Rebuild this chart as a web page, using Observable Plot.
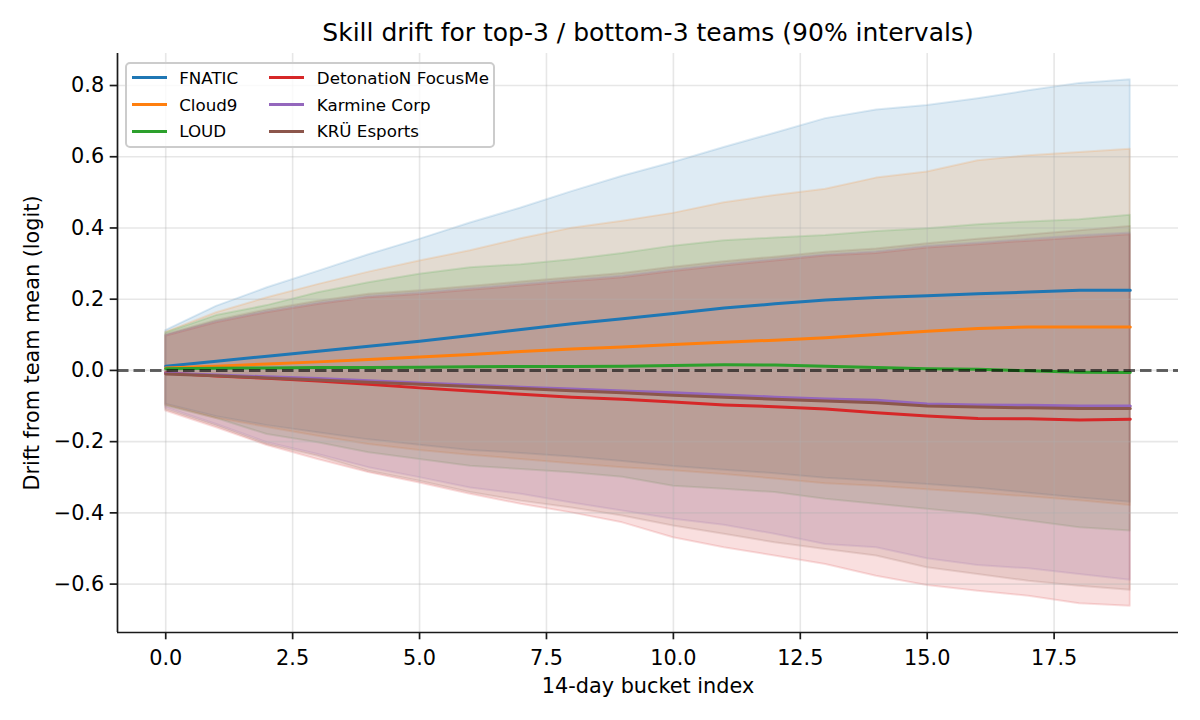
<!DOCTYPE html>
<html>
<head>
<meta charset="utf-8">
<script src="https://cdn.jsdelivr.net/npm/d3@7"></script>
<script src="https://cdn.jsdelivr.net/npm/@observablehq/plot@0.6"></script>
<style>
  html, body { margin: 0; padding: 0; background: #fff; }
  #wrap { position: relative; width: 1200px; height: 720px; font-family: "DejaVu Sans", sans-serif; }
  #legend { position: absolute; left: 125px; top: 62px; width: 366px; height: 82px;
            border: 2px solid #cccccc; border-radius: 5px; background: rgba(255,255,255,0.8); }
  .item { position: absolute; height: 22px; display: flex; align-items: center; font-size: 16.7px; color: #000; white-space: nowrap; }
  .sw { width: 35px; height: 3px; margin-right: 12.5px; }
</style>
</head>
<body>
<div id="wrap"><div id="chart"></div><div id="legend"></div></div>
<script>
// ---- data ----
const buckets = [0,1,2,3,4,5,6,7,8,9,10,11,12,13,14,15,16,17,18,19];
const teams = ["FNATIC", "Cloud9", "LOUD", "DetonatioN FocusMe", "Karmine Corp", "KRÜ Esports"];
const teamColors = ["#1f77b4", "#ff7f0e", "#2ca02c", "#d62728", "#9467bd", "#8c564b"];

const fnaticMean = [0.012,0.026,0.040,0.054,0.068,0.082,0.098,0.115,0.131,0.145,0.160,0.175,0.187,0.198,0.205,0.210,0.215,0.220,0.225,0.225];
const fnaticHi   = [0.112,0.180,0.232,0.278,0.325,0.368,0.414,0.456,0.502,0.545,0.584,0.626,0.666,0.707,0.731,0.744,0.763,0.785,0.806,0.816];
const fnaticLo   = [-0.095,-0.130,-0.155,-0.175,-0.195,-0.210,-0.225,-0.233,-0.243,-0.256,-0.270,-0.280,-0.290,-0.303,-0.311,-0.320,-0.331,-0.345,-0.358,-0.370];

const cloud9Mean = [0.007,0.012,0.018,0.024,0.031,0.038,0.045,0.053,0.060,0.066,0.073,0.079,0.085,0.092,0.101,0.110,0.118,0.122,0.122,0.122];
const cloud9Hi   = [0.107,0.162,0.204,0.241,0.276,0.307,0.336,0.370,0.399,0.419,0.441,0.471,0.491,0.509,0.540,0.557,0.589,0.603,0.612,0.621];
const cloud9Lo   = [-0.097,-0.135,-0.160,-0.185,-0.208,-0.225,-0.238,-0.250,-0.262,-0.273,-0.282,-0.292,-0.305,-0.318,-0.325,-0.335,-0.345,-0.355,-0.366,-0.379];

const loudMean = [0.005,0.006,0.007,0.008,0.008,0.009,0.010,0.011,0.011,0.012,0.014,0.016,0.015,0.012,0.008,0.005,0.003,-0.001,-0.005,-0.006];
const loudHi   = [0.105,0.154,0.182,0.218,0.246,0.270,0.288,0.297,0.311,0.328,0.349,0.364,0.372,0.379,0.390,0.398,0.409,0.417,0.423,0.436];
const loudLo   = [-0.100,-0.135,-0.180,-0.203,-0.231,-0.250,-0.269,-0.278,-0.287,-0.300,-0.325,-0.334,-0.343,-0.362,-0.376,-0.390,-0.404,-0.423,-0.442,-0.451];

const dfmMean = [-0.007,-0.016,-0.022,-0.030,-0.039,-0.049,-0.058,-0.067,-0.075,-0.081,-0.089,-0.097,-0.102,-0.108,-0.119,-0.128,-0.135,-0.136,-0.139,-0.137];
const dfmHi   = [0.096,0.134,0.162,0.185,0.204,0.213,0.225,0.237,0.249,0.260,0.278,0.293,0.307,0.321,0.328,0.344,0.353,0.363,0.372,0.381];
const dfmLo   = [-0.114,-0.161,-0.211,-0.250,-0.287,-0.316,-0.348,-0.376,-0.400,-0.428,-0.470,-0.498,-0.521,-0.545,-0.578,-0.604,-0.620,-0.634,-0.655,-0.662];

const kcMean = [-0.008,-0.013,-0.018,-0.023,-0.029,-0.035,-0.041,-0.047,-0.052,-0.058,-0.063,-0.069,-0.075,-0.080,-0.084,-0.094,-0.097,-0.098,-0.100,-0.100];
const kcHi   = [0.098,0.137,0.166,0.189,0.208,0.218,0.230,0.242,0.254,0.265,0.283,0.298,0.312,0.325,0.333,0.349,0.358,0.368,0.378,0.386];
const kcLo   = [-0.105,-0.152,-0.203,-0.236,-0.273,-0.301,-0.330,-0.348,-0.372,-0.395,-0.418,-0.435,-0.460,-0.489,-0.498,-0.529,-0.548,-0.557,-0.573,-0.589];

const kruMean = [-0.010,-0.015,-0.021,-0.027,-0.033,-0.039,-0.045,-0.051,-0.057,-0.063,-0.070,-0.075,-0.081,-0.086,-0.091,-0.100,-0.103,-0.105,-0.107,-0.107];
const kruHi   = [0.100,0.140,0.170,0.194,0.214,0.224,0.236,0.248,0.260,0.272,0.290,0.305,0.318,0.332,0.341,0.356,0.368,0.380,0.392,0.404];
const kruLo   = [-0.110,-0.156,-0.208,-0.241,-0.283,-0.311,-0.343,-0.367,-0.386,-0.409,-0.437,-0.460,-0.484,-0.503,-0.521,-0.554,-0.573,-0.592,-0.606,-0.617];

const xTicks = [0, 2.5, 5, 7.5, 10, 12.5, 15, 17.5];
const yTicks = [-0.6, -0.4, -0.2, 0.0, 0.2, 0.4, 0.6, 0.8];
const titleText = "Skill drift for top-3 / bottom-3 teams (90% intervals)";
const xLabel = "14-day bucket index";
const yLabel = "Drift from team mean (logit)";

// ---- build ----
const seriesVals = [
  [fnaticMean, fnaticLo, fnaticHi],
  [cloud9Mean, cloud9Lo, cloud9Hi],
  [loudMean, loudLo, loudHi],
  [dfmMean, dfmLo, dfmHi],
  [kcMean, kcLo, kcHi],
  [kruMean, kruLo, kruHi]
];
const tables = seriesVals.map(([m, lo, hi], k) =>
  buckets.map((b, i) => ({x: b, mean: m[i], lo: lo[i], hi: hi[i], team: teams[k]})));

function padExtent(vals) {
  const [a, b] = d3.extent(vals);
  const p = (b - a) * 0.05;
  return [a - p, b + p];
}
const xDomain = padExtent(buckets);
const yDomain = padExtent(seriesVals.flatMap(([m, lo, hi]) => [...lo, ...hi]));

const marks = [];
tables.forEach((t, k) => {
  marks.push(Plot.areaY(t, {x: "x", y1: "lo", y2: "hi", fill: teamColors[k], fillOpacity: 0.15,
    stroke: teamColors[k], strokeOpacity: 0.15, strokeWidth: 2, curve: "linear"}));
});
marks.push(Plot.gridX(xTicks, {stroke: "#b0b0b0", strokeOpacity: 0.3, strokeWidth: 1.6}));
marks.push(Plot.gridY(yTicks, {stroke: "#b0b0b0", strokeOpacity: 0.3, strokeWidth: 1.6}));
tables.forEach((t, k) => {
  marks.push(Plot.line(t, {x: "x", y: "mean", stroke: teamColors[k], strokeWidth: 3, curve: "linear"}));
});
marks.push(Plot.ruleY([0], {stroke: "#000", strokeOpacity: 0.6, strokeWidth: 3, strokeDasharray: "11.5,5"}));
marks.push(Plot.ruleX([xDomain[0]], {stroke: "#1a1a1a", strokeWidth: 1.7}));
marks.push(Plot.ruleY([yDomain[0]], {stroke: "#1a1a1a", strokeWidth: 1.7}));
marks.push(Plot.axisX(xTicks, {tickFormat: d3.format(".1f"), tickSize: 7.3, tickPadding: 10, fontSize: 20.8,
  strokeWidth: 1.7, stroke: "#1a1a1a", label: null}));
marks.push(Plot.axisY(yTicks, {tickFormat: d3.format(".1f"), tickSize: 7.3, tickPadding: 6, fontSize: 20.8,
  strokeWidth: 1.7, stroke: "#1a1a1a", label: null}));
marks.push(Plot.text([xLabel], {text: d => d, frameAnchor: "bottom", dy: 60, fontSize: 20.8, fill: "#000"}));
marks.push(Plot.text([yLabel], {text: d => d, frameAnchor: "left", textAnchor: "middle", dx: -85, rotate: -90, fontSize: 20.8, fill: "#000"}));
marks.push(Plot.text([titleText], {text: d => d, frameAnchor: "top", dy: -30, fontSize: 25, fill: "#000"}));

const chart = Plot.plot({
  width: 1200,
  height: 720,
  marginLeft: 117,
  marginRight: 22,
  marginTop: 53,
  marginBottom: 88,
  x: {domain: xDomain, axis: null},
  y: {domain: yDomain, axis: null},
  style: {fontFamily: "DejaVu Sans", fontSize: "20.8px", color: "#000", background: "#fff", overflow: "visible"},
  marks
});
document.getElementById("chart").appendChild(chart);

// ---- legend ----
const legend = document.getElementById("legend");
const rowTops = [2.7, 29.7, 56];
teams.forEach((name, k) => {
  const col = Math.floor(k / 3), row = k % 3;
  const it = document.createElement("div");
  it.className = "item";
  it.style.left = (col === 0 ? 4.7 : 142.3) + "px";
  it.style.top = rowTops[row] + "px";
  const sw = document.createElement("div");
  sw.className = "sw";
  sw.style.background = teamColors[k];
  const tx = document.createElement("span");
  tx.textContent = name;
  it.appendChild(sw); it.appendChild(tx);
  legend.appendChild(it);
});
</script>
</body>
</html>
